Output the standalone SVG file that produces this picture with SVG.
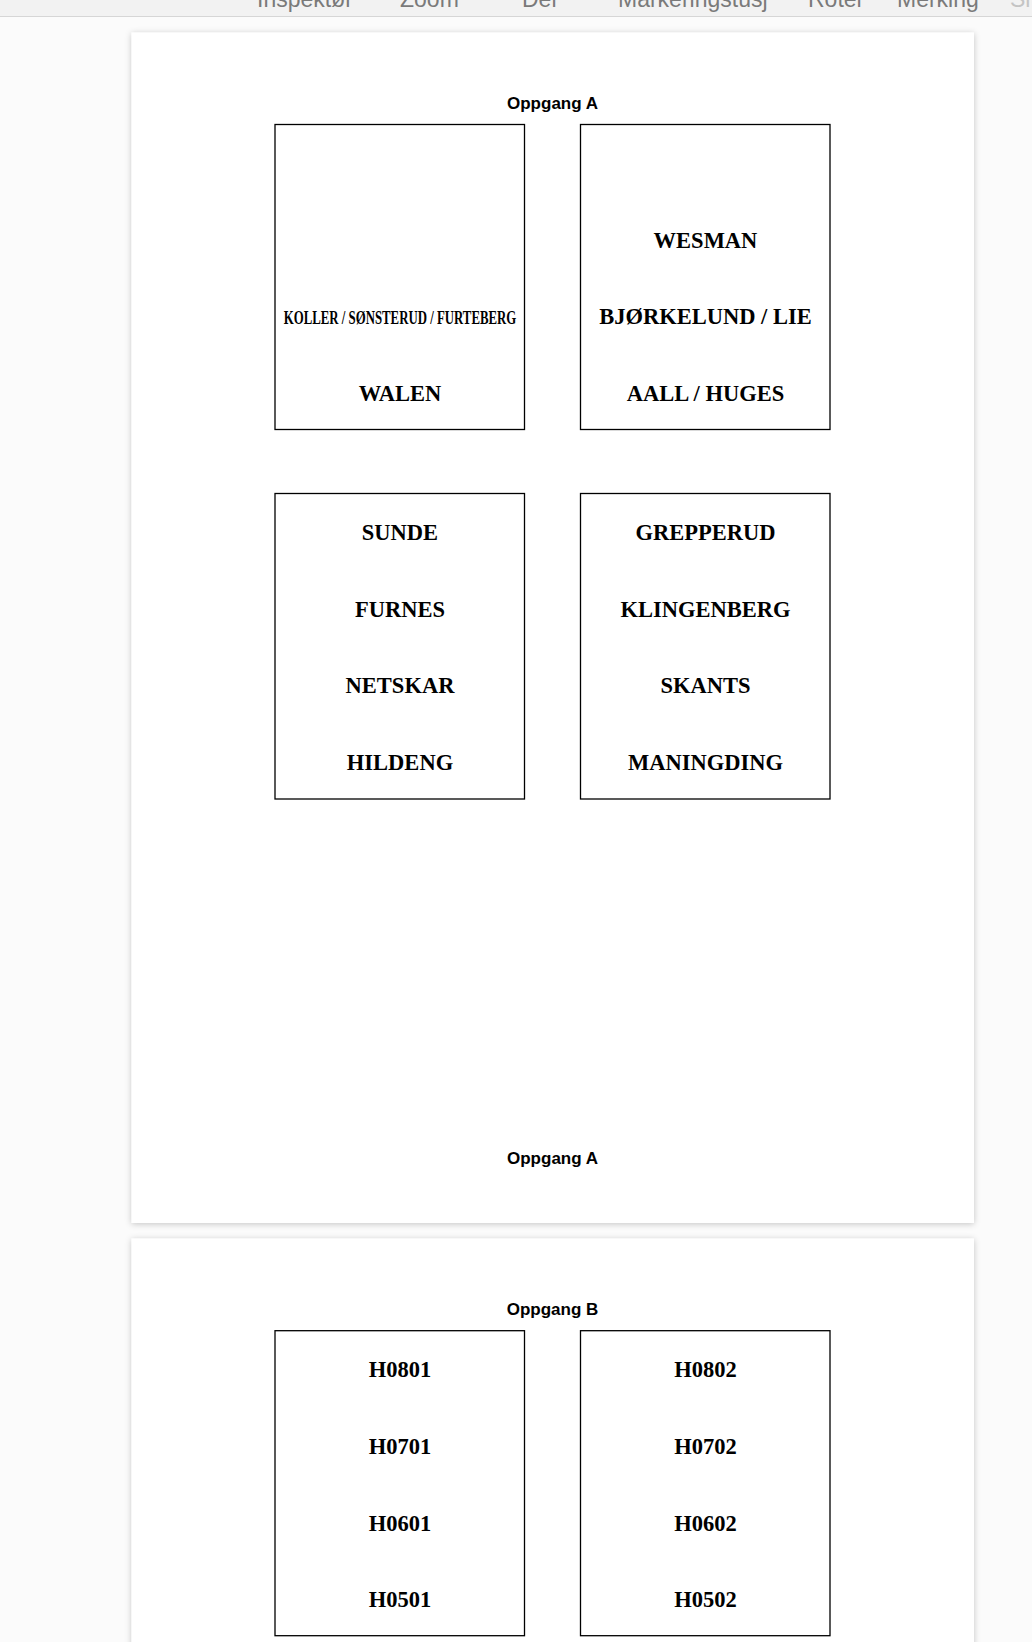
<svg xmlns="http://www.w3.org/2000/svg" width="1032" height="1642" viewBox="0 0 1032 1642">
<defs>
<filter id="sh" x="-5%" y="-5%" width="110%" height="110%">
<feDropShadow dx="0" dy="1" stdDeviation="3" flood-color="#000" flood-opacity="0.22"/>
</filter>
</defs>
<style>
.tb{font-family:"Liberation Sans",Arial,sans-serif;font-size:23px;fill:#7a7a7a}
.hd{font-family:"Liberation Sans",Arial,sans-serif;font-size:17px;font-weight:bold;fill:#000;text-anchor:middle}
.nm{font-family:"Liberation Serif","Times New Roman",serif;font-size:22.5px;font-weight:bold;fill:#000;text-anchor:middle}
.bx{fill:#fff;stroke:#000;stroke-width:1.3}
.pg{fill:#fff}
</style>
<rect x="0" y="0" width="1032" height="1642" fill="#fbfbfb"/>
<g id="toolbar">
<rect x="0" y="0" width="1032" height="16" fill="#f2f2f2"/>
<line x1="0" y1="16.5" x2="1032" y2="16.5" stroke="#d6d6d6" stroke-width="1"/>
<text class="tb" x="257" y="7">Inspektør</text>
<text class="tb" x="400" y="7">Zoom</text>
<text class="tb" x="522" y="7">Del</text>
<text class="tb" x="618" y="7">Markeringstusj</text>
<text class="tb" x="808" y="7">Roter</text>
<text class="tb" x="897" y="7">Merking</text>
<text class="tb" x="1010" y="7" style="fill:#c4c4c4">Sl</text>
</g>
<g id="page1">
<rect class="pg" x="131.5" y="32.5" width="842.5" height="1190.5" filter="url(#sh)"/>
<text class="hd" x="552.5" y="109.3">Oppgang A</text>
<text class="hd" x="552.5" y="1163.5">Oppgang A</text>
</g>
<g id="page2">
<rect class="pg" x="131.5" y="1238.5" width="842.5" height="420" filter="url(#sh)"/>
<text class="hd" x="552.5" y="1315">Oppgang B</text>
</g>
<g id="boxA1">
<rect class="bx" x="275" y="124.5" width="249.5" height="305"/>
<text class="nm" x="0" y="0" style="font-size:19.5px" transform="translate(400,323.5) scale(0.658,1)">KOLLER / SØNSTERUD / FURTEBERG</text>
<text class="nm" x="400" y="401">WALEN</text>
</g>
<g id="boxA2">
<rect class="bx" x="580.5" y="124.5" width="249.5" height="305"/>
<text class="nm" x="705.5" y="247.7">WESMAN</text>
<text class="nm" x="705.5" y="324.3">BJØRKELUND / LIE</text>
<text class="nm" x="705.5" y="401">AALL / HUGES</text>
</g>
<g id="boxA3">
<rect class="bx" x="275" y="493.5" width="249.5" height="305.5"/>
<text class="nm" x="400" y="540">SUNDE</text>
<text class="nm" x="400" y="616.7">FURNES</text>
<text class="nm" x="400" y="693.3">NETSKAR</text>
<text class="nm" x="400" y="770">HILDENG</text>
</g>
<g id="boxA4">
<rect class="bx" x="580.5" y="493.5" width="249.5" height="305.5"/>
<text class="nm" x="705.5" y="540">GREPPERUD</text>
<text class="nm" x="705.5" y="616.7">KLINGENBERG</text>
<text class="nm" x="705.5" y="693.3">SKANTS</text>
<text class="nm" x="705.5" y="770">MANINGDING</text>
</g>
<g id="boxB1">
<rect class="bx" x="275" y="1330.7" width="249.5" height="305"/>
<text class="nm" x="400" y="1377.3">H0801</text>
<text class="nm" x="400" y="1454">H0701</text>
<text class="nm" x="400" y="1530.7">H0601</text>
<text class="nm" x="400" y="1607.3">H0501</text>
</g>
<g id="boxB2">
<rect class="bx" x="580.5" y="1330.7" width="249.5" height="305"/>
<text class="nm" x="705.5" y="1377.3">H0802</text>
<text class="nm" x="705.5" y="1454">H0702</text>
<text class="nm" x="705.5" y="1530.7">H0602</text>
<text class="nm" x="705.5" y="1607.3">H0502</text>
</g>
<g id="connectors"></g>
</svg>
